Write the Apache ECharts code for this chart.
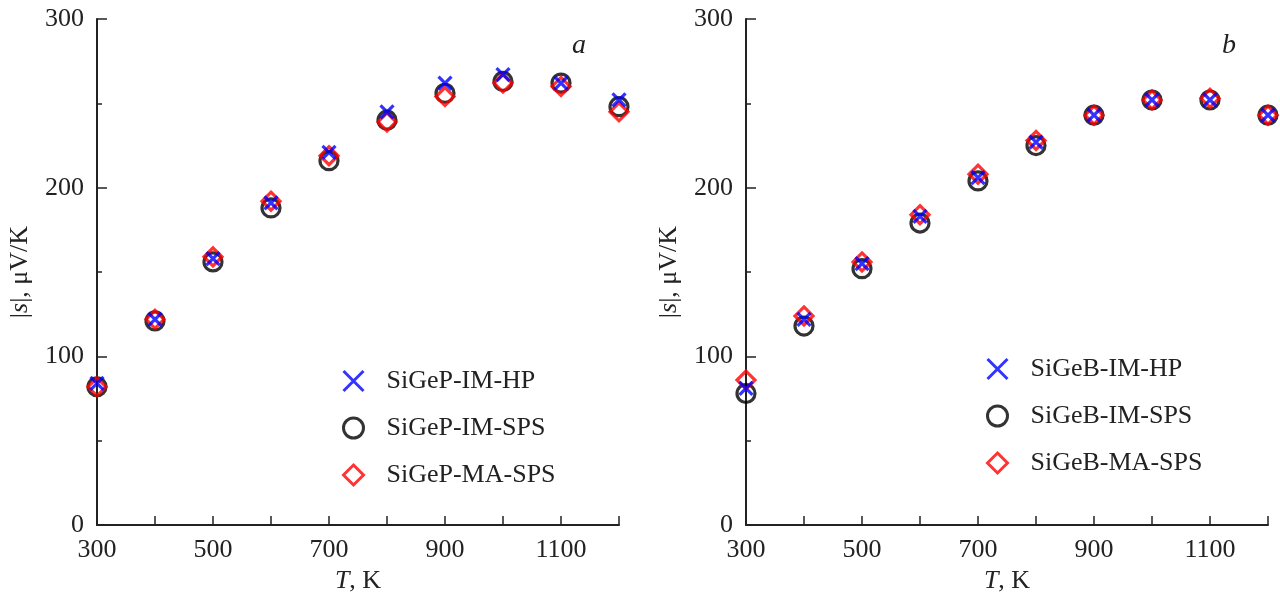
<!DOCTYPE html>
<html>
<head>
<meta charset="utf-8">
<script src="https://cdn.jsdelivr.net/npm/echarts@6/dist/echarts.min.js"></script>
<style>
html,body{margin:0;padding:0;background:#fff;}
#chart{width:1280px;height:599px;}
</style>
</head>
<body>
<div id="chart"></div>
<script>
// temperatures, K
var temps = [300, 400, 500, 600, 700, 800, 900, 1000, 1100, 1200];
// panel a, |s| in uV/K
var pHP = [84, 122, 158, 191, 221, 245, 262, 267, 262, 252];
var pIM = [82, 121, 156, 188, 216, 240, 256, 263, 262, 248];
var pMA = [82, 122, 159, 192, 219, 239, 254, 262, 260, 245];
// panel b
var bHP = [81, 122, 155, 183, 206, 227, 243, 252, 252, 243];
var bIM = [78, 118, 152, 179, 204, 225, 243, 252, 252, 243];
var bMA = [86, 124, 156, 184, 208, 228, 243, 252, 253, 243];
var namesP = ['SiGeP-IM-HP', 'SiGeP-IM-SPS', 'SiGeP-MA-SPS'];
var namesB = ['SiGeB-IM-HP', 'SiGeB-IM-SPS', 'SiGeB-MA-SPS'];
var xLabels = [300, 500, 700, 900, 1100];
var panelTags = ['a', 'b'];

var FONT = 'Liberation Serif';
var INK = '#222';
var crossPath = 'path://M0,0L10,10M10,0L0,10';
var diamondPath = 'path://M5,0L10,5L5,10L0,5Z';

var pairs = function(arr){
	return temps.map(function(t, i){ return [t, arr[i]]; });
};

var xAxis = function(idx){
	return {
		gridIndex: idx,
		type: 'value',
		min: 300, max: 1200, interval: 100,
		axisLine: {show: true, onZero: false, lineStyle: {color: INK, width: 2}},
		axisTick: {inside: true, length: 9, lineStyle: {color: INK, width: 1.5}},
		axisLabel: {
			margin: 12, fontFamily: FONT, fontSize: 26, color: INK,
			formatter: function(v){ return xLabels.indexOf(v) >= 0 ? String(v) : ''; }
		},
		splitLine: {show: false},
		name: '{i|T}, K',
		nameLocation: 'middle',
		nameGap: 38,
		nameTextStyle: {
			fontFamily: FONT, fontSize: 26, color: INK,
			rich: {i: {fontFamily: FONT, fontSize: 26, fontStyle: 'italic', color: INK}}
		}
	};
};

var yAxis = function(idx){
	return {
		gridIndex: idx,
		type: 'value',
		min: 0, max: 300, interval: 100,
		axisLine: {show: true, onZero: false, lineStyle: {color: INK, width: 2}},
		axisTick: {inside: true, length: 10, lineStyle: {color: INK, width: 1.5}},
		minorTick: {show: true, splitNumber: 2, length: 5, lineStyle: {color: INK, width: 1.5}},
		axisLabel: {margin: 13, fontFamily: FONT, fontSize: 26, color: INK},
		splitLine: {show: false},
		minorSplitLine: {show: false},
		name: '|{i|s}|, μV/K',
		nameLocation: 'middle',
		nameRotate: 90,
		nameGap: 64,
		nameTextStyle: {
			fontFamily: FONT, fontSize: 26, color: INK,
			rich: {i: {fontFamily: FONT, fontSize: 26, fontStyle: 'italic', color: INK}}
		}
	};
};

var makeSeries = function(idx, names, hp, im, ma){
	return [{
		name: names[1], type: 'scatter', xAxisIndex: idx, yAxisIndex: idx, z: 2,
		symbol: 'circle', symbolSize: 18,
		itemStyle: {color: 'transparent', borderColor: '#000', borderWidth: 3.2},
		data: pairs(im)
	}, {
		name: names[2], type: 'scatter', xAxisIndex: idx, yAxisIndex: idx, z: 3,
		symbol: diamondPath, symbolSize: 18,
		itemStyle: {color: 'transparent', borderColor: '#ff0000', borderWidth: 3.2},
		data: pairs(ma)
	}, {
		name: names[0], type: 'scatter', xAxisIndex: idx, yAxisIndex: idx, z: 4,
		symbol: crossPath, symbolSize: 13,
		itemStyle: {color: 'transparent', borderColor: '#0000ff', borderWidth: 3.2},
		data: pairs(hp)
	}];
};

var legend = function(left, top, names){
	return {
		orient: 'vertical', left: left, top: top,
		itemWidth: 56, itemHeight: 20, itemGap: 21,
		symbolKeepAspect: true,
		data: names,
		itemStyle: {borderWidth: 3},
		textStyle: {fontFamily: FONT, fontSize: 26, color: INK}
	};
};

var chart = echarts.init(document.getElementById('chart'));
chart.setOption({
	backgroundColor: '#fff',
	animation: false,
	title: [
		{text: panelTags[0], left: 567, top: 27, textStyle: {fontFamily: FONT, fontSize: 28, fontStyle: 'italic', fontWeight: 'normal', color: INK}},
		{text: panelTags[1], left: 1217, top: 27, textStyle: {fontFamily: FONT, fontSize: 28, fontStyle: 'italic', fontWeight: 'normal', color: INK}}
	],
	grid: [
		{left: 97, top: 19, width: 522, height: 508},
		{left: 746, top: 19, width: 522, height: 508}
	],
	legend: [legend(337, 363, namesP), legend(981, 351, namesB)],
	xAxis: [xAxis(0), xAxis(1)],
	yAxis: [yAxis(0), yAxis(1)],
	series: makeSeries(0, namesP, pHP, pIM, pMA).concat(makeSeries(1, namesB, bHP, bIM, bMA))
});
</script>
</body>
</html>
